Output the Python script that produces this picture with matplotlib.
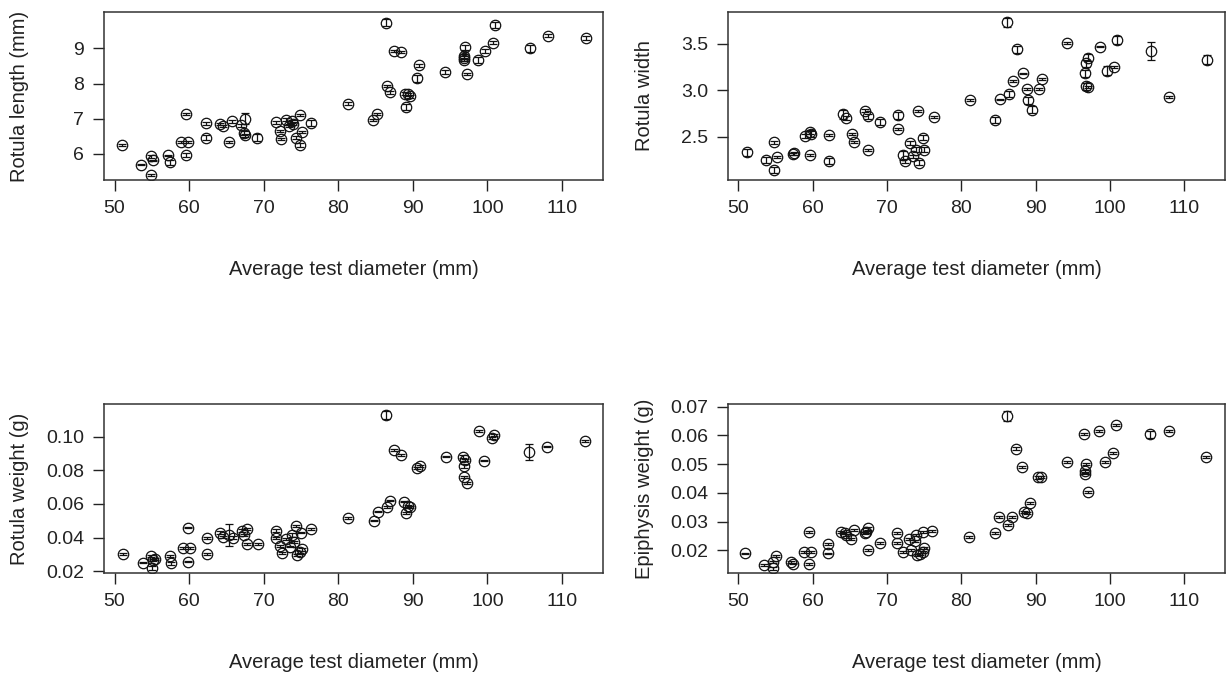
import matplotlib
matplotlib.use("Agg")
import matplotlib.pyplot as plt

plt.rcParams["font.family"] = ["Liberation Sans", "DejaVu Sans"]

# rotula length (mm) vs average test diameter (mm)
len_diam = [51.05, 53.6, 54.9, 55.2, 54.9, 57.2, 57.4, 58.9, 59.8, 59.65, 59.65,
            62.3, 62.3, 64.1, 64.5, 65.7, 65.35, 67.0, 67.5, 67.4, 67.45, 69.1,
            71.6, 72.15, 72.35, 73.0, 73.4, 73.8, 74.0, 74.35, 74.9, 75.1, 74.9,
            76.3, 81.3, 84.65, 85.25, 86.35, 86.5, 86.9, 87.5, 88.4, 88.95, 89.35,
            89.6, 89.05, 90.6, 90.8, 94.3, 97.0, 96.8, 96.9, 96.9, 97.25, 98.8,
            99.7, 100.7, 101.0, 105.7, 108.1, 113.2]
len_mean = [6.24, 5.69, 5.92, 5.81, 5.40, 5.95, 5.75, 6.33, 6.33, 7.12, 5.96,
            6.87, 6.46, 6.85, 6.79, 6.92, 6.33, 6.81, 7.00, 6.59, 6.52, 6.46,
            6.89, 6.65, 6.41, 6.97, 6.80, 6.92, 6.86, 6.46, 7.10, 6.63, 6.24,
            6.87, 7.43, 6.95, 7.14, 9.74, 7.94, 7.75, 8.92, 8.89, 7.71, 7.69,
            7.64, 7.33, 8.15, 8.52, 8.34, 9.03, 8.78, 8.74, 8.67, 8.27, 8.67,
            8.92, 9.17, 9.67, 9.00, 9.36, 9.31]
len_se = [0.03, 0.02, 0.03, 0.02, 0.03, 0.02, 0.06, 0.03, 0.03, 0.03, 0.05,
          0.04, 0.06, 0.03, 0.02, 0.05, 0.03, 0.04, 0.15, 0.05, 0.04, 0.10,
          0.05, 0.03, 0.03, 0.04, 0.05, 0.04, 0.05, 0.04, 0.03, 0.03, 0.06,
          0.08, 0.03, 0.03, 0.03, 0.10, 0.03, 0.04, 0.03, 0.03, 0.04, 0.05,
          0.04, 0.08, 0.10, 0.04, 0.06, 0.06, 0.05, 0.04, 0.04, 0.03, 0.08,
          0.06, 0.04, 0.09, 0.10, 0.04, 0.06]

# rotula width (mm)
wid_diam = [51.1, 53.7, 54.8, 55.2, 54.8, 57.3, 57.5, 58.9, 59.6, 59.8, 59.7,
            62.2, 62.25, 64.1, 64.5, 65.3, 65.6, 67.0, 67.4, 67.5, 69.1, 71.5,
            71.45, 72.2, 72.4, 73.1, 73.55, 73.9, 74.2, 74.35, 74.9, 75.0, 76.3,
            81.2, 84.6, 85.2, 86.2, 86.4, 86.9, 87.45, 88.3, 88.8, 89.0, 89.5,
            90.5, 90.9, 94.25, 96.7, 96.8, 97.0, 96.8, 97.1, 98.7, 99.6, 100.6,
            100.9, 105.55, 107.9, 113.1]
wid_mean = [2.33, 2.25, 2.44, 2.28, 2.14, 2.31, 2.32, 2.51, 2.55, 2.53, 2.30,
            2.52, 2.24, 2.74, 2.70, 2.53, 2.44, 2.78, 2.72, 2.36, 2.66, 2.73,
            2.58, 2.30, 2.24, 2.43, 2.29, 2.36, 2.78, 2.22, 2.49, 2.36, 2.71,
            2.89, 2.68, 2.90, 3.73, 2.96, 3.10, 3.44, 3.18, 3.01, 2.89, 2.79,
            3.01, 3.12, 3.51, 3.18, 3.29, 3.35, 3.04, 3.03, 3.47, 3.21, 3.25,
            3.54, 3.42, 2.93, 3.33]
wid_se = [0.035, 0.03, 0.015, 0.01, 0.03, 0.01, 0.015, 0.02, 0.02, 0.03, 0.01,
          0.01, 0.035, 0.045, 0.02, 0.01, 0.01, 0.015, 0.025, 0.01, 0.035, 0.035,
          0.01, 0.05, 0.02, 0.02, 0.015, 0.03, 0.01, 0.03, 0.03, 0.03, 0.01,
          0.01, 0.035, 0.01, 0.045, 0.035, 0.01, 0.035, 0.01, 0.01, 0.035, 0.035,
          0.01, 0.01, 0.01, 0.04, 0.04, 0.04, 0.04, 0.01, 0.01, 0.045, 0.01,
          0.045, 0.094, 0.01, 0.045]

# rotula weight (g)
wt_diam = [51.2, 53.8, 54.9, 55.2, 55.0, 55.4, 57.4, 57.6, 59.2, 60.1, 59.8,
           59.8, 62.4, 62.4, 64.2, 64.6, 65.4, 65.9, 67.1, 67.7, 67.4, 67.7,
           69.2, 71.7, 71.6, 72.2, 72.4, 73.0, 73.5, 73.8, 74.1, 74.4, 75.0,
           75.1, 74.5, 74.9, 76.4, 81.3, 84.75, 85.3, 86.4, 86.5, 86.95, 87.5,
           88.4, 88.85, 89.3, 89.65, 89.1, 90.6, 90.9, 94.4, 96.7, 97.0, 96.8,
           96.9, 97.25, 98.85, 99.6, 100.6, 100.9, 105.6, 108.0, 113.1]
wt_mean = [0.0301, 0.0251, 0.0290, 0.0267, 0.0221, 0.0273, 0.0287, 0.0247,
           0.0336, 0.0336, 0.0459, 0.0257, 0.0398, 0.0301, 0.0429, 0.0405,
           0.0415, 0.0399, 0.0441, 0.0451, 0.0415, 0.0362, 0.0362, 0.0441,
           0.0396, 0.0350, 0.0307, 0.0390, 0.0346, 0.0415, 0.0376, 0.0469,
           0.0429, 0.0330, 0.0296, 0.0316, 0.0449, 0.0518, 0.0501, 0.0554,
           0.1130, 0.0584, 0.0620, 0.0921, 0.0890, 0.0614, 0.0588, 0.0584,
           0.0545, 0.0812, 0.0828, 0.0882, 0.0882, 0.0862, 0.0826, 0.0763,
           0.0723, 0.1035, 0.0858, 0.0991, 0.1011, 0.0911, 0.0941, 0.0975]
wt_se = [0.0005, 0.0005, 0.0008, 0.0006, 0.0012, 0.0005, 0.0006, 0.0010,
         0.0005, 0.0005, 0.0005, 0.0005, 0.0005, 0.0005, 0.0008, 0.0006,
         0.0063, 0.0010, 0.0008, 0.0006, 0.0008, 0.0005, 0.0005, 0.0008,
         0.0005, 0.0006, 0.0005, 0.0005, 0.0005, 0.0010, 0.0006, 0.0008,
         0.0005, 0.0008, 0.0005, 0.0006, 0.0005, 0.0005, 0.0005, 0.0005,
         0.0025, 0.0006, 0.0005, 0.0008, 0.0005, 0.0005, 0.0008, 0.0006,
         0.0005, 0.0006, 0.0006, 0.0005, 0.0008, 0.0008, 0.0012, 0.0006,
         0.0005, 0.0005, 0.0005, 0.0006, 0.0006, 0.0048, 0.0005, 0.0005]

# epiphysis weight (g)
epi_diam = [50.9, 53.5, 54.7, 54.7, 55.0, 57.1, 57.3, 58.8, 59.5, 59.8, 59.5,
            62.0, 62.0, 63.8, 64.3, 64.5, 65.2, 65.5, 67.0, 67.4, 67.2, 67.4,
            69.0, 71.4, 71.3, 72.1, 72.9, 73.2, 73.7, 73.9, 74.1, 74.4, 74.8,
            75.0, 74.8, 76.1, 81.1, 84.5, 85.1, 86.1, 86.3, 86.8, 87.4, 88.2,
            88.5, 88.9, 89.3, 90.3, 90.7, 94.2, 96.5, 96.8, 96.6, 96.6, 97.0,
            98.6, 99.4, 100.4, 100.8, 105.4, 107.9, 113.0]
epi_mean = [0.0189, 0.0149, 0.0160, 0.0137, 0.0180, 0.0160, 0.0154, 0.0195,
            0.0264, 0.0195, 0.0152, 0.0222, 0.0189, 0.0264, 0.0261, 0.0253,
            0.0238, 0.0270, 0.0259, 0.0276, 0.0264, 0.0201, 0.0226, 0.0261,
            0.0226, 0.0195, 0.0238, 0.0201, 0.0233, 0.0253, 0.0183, 0.0187,
            0.0264, 0.0207, 0.0195, 0.0268, 0.0247, 0.0259, 0.0317, 0.0667,
            0.0288, 0.0317, 0.0554, 0.0490, 0.0334, 0.0330, 0.0365, 0.0454,
            0.0454, 0.0508, 0.0604, 0.0500, 0.0475, 0.0467, 0.0403, 0.0615,
            0.0508, 0.0539, 0.0636, 0.0603, 0.0615, 0.0525]
epi_se = [0.0003, 0.0003, 0.0003, 0.0005, 0.0004, 0.0003, 0.0003, 0.0003,
          0.0003, 0.0003, 0.0003, 0.0003, 0.0003, 0.0004, 0.0003, 0.0003,
          0.0003, 0.0003, 0.0004, 0.0004, 0.0003, 0.0003, 0.0003, 0.0004,
          0.0003, 0.0004, 0.0003, 0.0003, 0.0003, 0.0004, 0.0003, 0.0003,
          0.0003, 0.0004, 0.0003, 0.0003, 0.0003, 0.0003, 0.0003, 0.0016,
          0.0003, 0.0003, 0.0005, 0.0003, 0.0004, 0.0004, 0.0003, 0.0005,
          0.0004, 0.0004, 0.0003, 0.0003, 0.0004, 0.0003, 0.0003, 0.0004,
          0.0003, 0.0004, 0.0004, 0.0013, 0.0005, 0.0003]

x_ticks = [50, 60, 70, 80, 90, 100, 110]

panels = [
    # (rect, x, y, se, ylabel, ylim, yticks, ytick labels)
    ([0.0846, 0.7329, 0.4068, 0.2498], len_diam, len_mean, len_se,
     "Rotula length (mm)", (5.24, 10.05), [6, 7, 8, 9], ["6", "7", "8", "9"]),
    ([0.5931, 0.7329, 0.4053, 0.2498], wid_diam, wid_mean, wid_se,
     "Rotula width", (2.03, 3.845), [2.5, 3.0, 3.5], ["2.5", "3.0", "3.5"]),
    ([0.0846, 0.1507, 0.4068, 0.2508], wt_diam, wt_mean, wt_se,
     "Rotula weight (g)", (0.0187, 0.1195), [0.02, 0.04, 0.06, 0.08, 0.10],
     ["0.02", "0.04", "0.06", "0.08", "0.10"]),
    ([0.5931, 0.1507, 0.4053, 0.2508], epi_diam, epi_mean, epi_se,
     "Epiphysis weight (g)", (0.0120, 0.0709),
     [0.02, 0.03, 0.04, 0.05, 0.06, 0.07],
     ["0.02", "0.03", "0.04", "0.05", "0.06", "0.07"]),
]

fig = plt.figure(figsize=(12.27, 6.75), dpi=100)

for rect, xs, ys, se, ylab, ylim, yt, ytl in panels:
    ax = fig.add_axes(rect)
    ax.errorbar(xs, ys, yerr=se, fmt="o", mfc="none", mec="#111111", ms=7.5,
                mew=0.9, ecolor="#111111", elinewidth=0.9, capsize=3,
                capthick=0.9)
    ax.set_xlim(48.56, 115.5)
    ax.set_ylim(*ylim)
    ax.set_xticks(x_ticks)
    ax.set_xticklabels([str(t) for t in x_ticks])
    ax.set_yticks(yt)
    ax.set_yticklabels(ytl)
    ax.tick_params(direction="out", length=8, width=1, labelsize=14, pad=6,
                   colors="#222222")
    for sp in ax.spines.values():
        sp.set_linewidth(1.1)
        sp.set_color("#333333")
    ax.set_xlabel("Average test diameter (mm)", fontsize=14.5, color="#222222")
    ax.set_ylabel(ylab, fontsize=14.5, color="#222222")
    ax.xaxis.set_label_coords(0.5, -0.47)
    ax.yaxis.set_label_coords(-0.149, 0.5)

fig.savefig("out.png", dpi=100)
